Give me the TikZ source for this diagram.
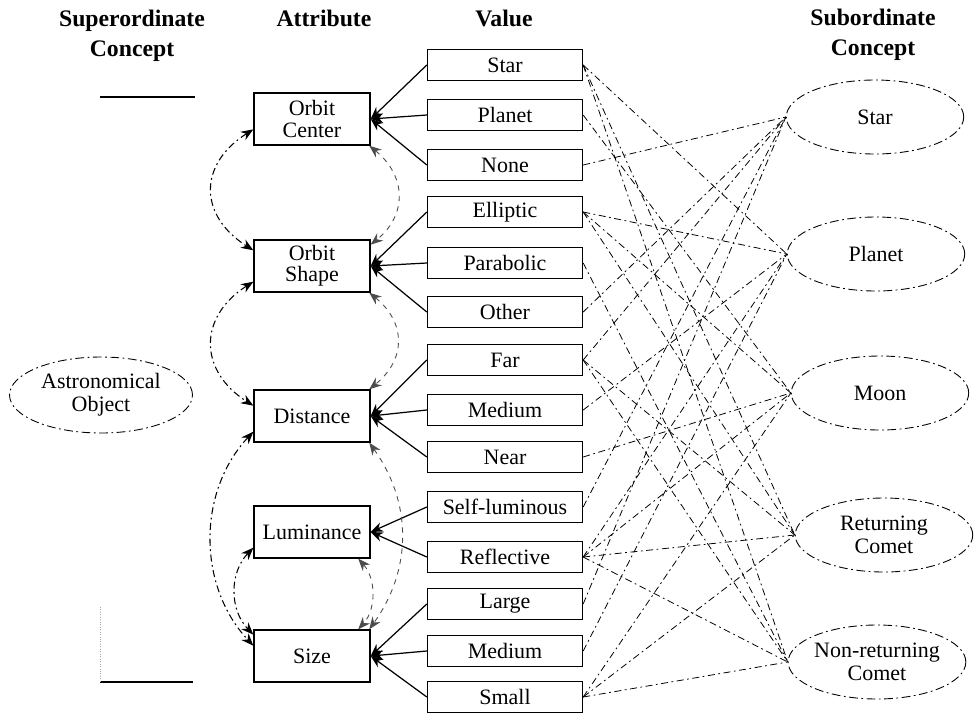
\documentclass[tikz,border=0pt]{standalone}
\usepackage{fontspec}
\setmainfont{Liberation Serif}
\usetikzlibrary{arrows.meta, shapes.geometric}

\begin{document}
\begin{tikzpicture}[x=0.02cm, y=-0.02cm, >={Stealth[length=7pt,width=5.5pt]},
    font=\fontsize{12.5}{13}\selectfont,
    head/.style={font=\fontsize{13.5}{17}\selectfont\bfseries, align=center},
    attr/.style={draw, line width=0.8pt, minimum width=2.32cm, minimum height=1.04cm,
      align=center, inner sep=1pt, font=\fontsize{12.5}{12}\selectfont},
    val/.style={draw, line width=0.8pt, minimum width=3.1cm, minimum height=0.62cm, inner sep=1pt},
    concept/.style={draw, ellipse, dash pattern=on 5pt off 2pt on 1pt off 2pt, line width=0.5pt,
      minimum width=3.55cm, minimum height=1.48cm, align=center, inner sep=0pt},
    link/.style={->, line width=0.7pt},
    rel/.style={<->, dash pattern=on 4pt off 2pt on 1pt off 2pt, line width=0.6pt},
    relb/.style={<->, dash pattern=on 3pt off 3pt, line width=0.5pt, black!70},
    inst/.style={dash pattern=on 4pt off 2pt on 1pt off 2pt, line width=0.45pt}]
\useasboundingbox (0,0) rectangle (975,718);

% column headings
  \node[head] (hsup)  at (132,36) {Superordinate\\Concept};
  \node[head] (hattr) at (324,18) {Attribute};
  \node[head] (hval)  at (504,18) {Value};
  \node[head] (hsub)  at (873,35) {Subordinate\\Concept};

% superordinate concept
  \node[concept, minimum width=3.66cm, minimum height=1.52cm] (astro) at (101,395) {Astronomical\\Object};
  \draw[line width=0.8pt] (100,97) -- (195,97);
  \draw[line width=0.8pt] (100,682) -- (193,682);
  \draw[black!35, densely dotted] (100,607) -- (100,682);

% define the attributes
  \node[attr] (center) at (312,119) {Orbit\\Center};
  \node[attr] (shape)  at (312,266) {Orbit\\Shape};
  \node[attr] (dist)   at (312,416) {Distance};
  \node[attr] (lum)    at (312,532) {Luminance};
  \node[attr] (size)   at (312,656) {Size};

% define the values
  \node[val] (vstar)   at (505,65)  {Star};
  \node[val] (vplanet) at (505,115) {Planet};
  \node[val] (vnone)   at (505,165) {None};
  \node[val] (vellip)  at (505,212) {Elliptic};
  \node[val] (vparab)  at (505,263) {Parabolic};
  \node[val] (vother)  at (505,312) {Other};
  \node[val] (vfar)    at (505,360) {Far};
  \node[val] (vmedd)   at (505,410) {Medium};
  \node[val] (vnear)   at (505,457) {Near};
  \node[val] (vself)   at (505,507) {Self-luminous};
  \node[val] (vrefl)   at (505,557) {Reflective};
  \node[val] (vlarge)  at (505,604) {Large};
  \node[val] (vmeds)   at (505,651) {Medium};
  \node[val] (vsmall)  at (505,697) {Small};

% define the subordinate concepts
  \node[concept] (sstar)   at (875,117) {Star};
  \node[concept] (splanet) at (876,254) {Planet};
  \node[concept] (smoon)   at (880,393) {Moon};
  \node[concept] (sret)    at (884,535) {Returning\\Comet};
  \node[concept] (snon)    at (877,662) {Non-returning\\Comet};

% values to attributes
  \path[link] (vstar.west) edge (center.east)
              (vplanet.west) edge (center.east)
              (vnone.west) edge (center.east)
              (vellip.west) edge (shape.east)
              (vparab.west) edge (shape.east)
              (vother.west) edge (shape.east)
              (vfar.west) edge (dist.east)
              (vmedd.west) edge (dist.east)
              (vnear.west) edge (dist.east)
              (vself.west) edge (lum.east)
              (vrefl.west) edge (lum.east)
              (vlarge.west) edge (size.east)
              (vmeds.west) edge (size.east)
              (vsmall.west) edge (size.east);

% links between the attributes
  \draw[rel] (center.190) .. controls +(-55,35) and +(-55,-35) .. (shape.165);
  \draw[rel] (shape.195) .. controls +(-55,35) and +(-55,-35) .. (dist.170);
  \draw[rel] (dist.195) .. controls +(-56,60) and +(-56,-60) .. (size.170);
  \draw[rel] (lum.195) .. controls +(-24,25) and +(-24,-25) .. (size.160);
  \draw[relb] (center.-25) .. controls +(37,30) and +(37,-30) .. (shape.20);
  \draw[relb] (shape.-25) .. controls +(37,30) and +(37,-30) .. (dist.25);
  \draw[relb] (dist.-25) .. controls +(43,60) and +(43,-60) .. (size.25);
  \draw[relb] (lum.-30) .. controls +(18,20) and +(18,-20) .. (size.30);

% values to subordinate concepts
  \path[inst] (vnone.east) edge (sstar.west)
              (vother.east) edge (sstar.west)
              (vfar.east) edge (sstar.west)
              (vself.east) edge (sstar.west)
              (vlarge.east) edge (sstar.west)
              (vstar.east) edge (splanet.west)
              (vellip.east) edge (splanet.west)
              (vmedd.east) edge (splanet.west)
              (vrefl.east) edge (splanet.west)
              (vmeds.east) edge (splanet.west)
              (vplanet.east) edge (smoon.west)
              (vellip.east) edge (smoon.west)
              (vnear.east) edge (smoon.west)
              (vrefl.east) edge (smoon.west)
              (vsmall.east) edge (smoon.west)
              (vstar.east) edge (sret.west)
              (vellip.east) edge (sret.west)
              (vfar.east) edge (sret.west)
              (vrefl.east) edge (sret.west)
              (vsmall.east) edge (sret.west)
              (vstar.east) edge (snon.west)
              (vparab.east) edge (snon.west)
              (vfar.east) edge (snon.west)
              (vrefl.east) edge (snon.west)
              (vsmall.east) edge (snon.west);

\end{tikzpicture}
\end{document}
